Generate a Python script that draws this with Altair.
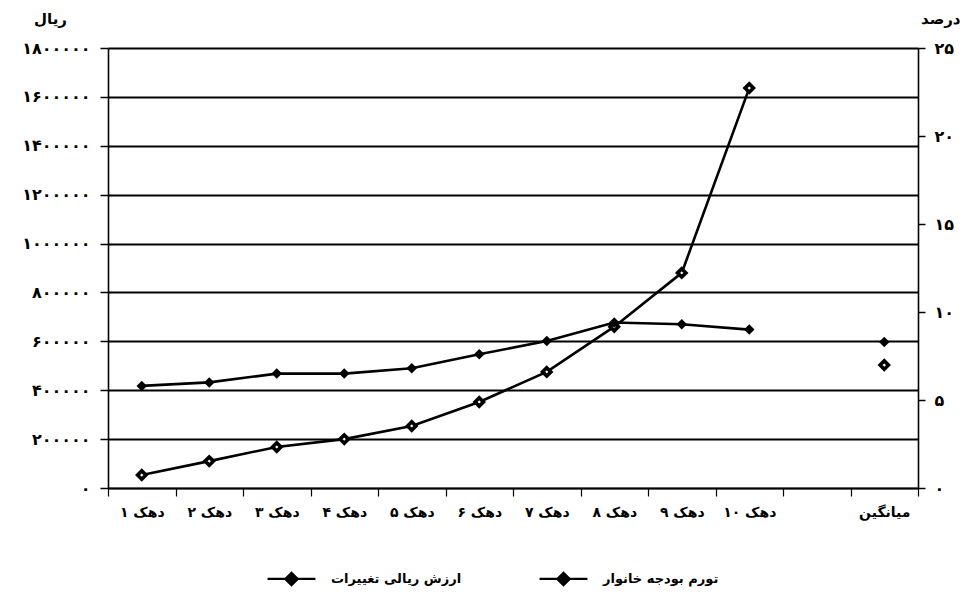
import altair as alt
import pandas as pd

# ---- data ----
categories = ['دهک ۱', 'دهک ۲', 'دهک ۳', 'دهک ۴', 'دهک ۵', 'دهک ۶', 'دهک ۷',
              'دهک ۸', 'دهک ۹', 'دهک ۱۰', ' ', 'میانگین']
avg_label = 'میانگین'
point_cats = ['دهک ۱', 'دهک ۲', 'دهک ۳', 'دهک ۴', 'دهک ۵', 'دهک ۶', 'دهک ۷',
              'دهک ۸', 'دهک ۹', 'دهک ۱۰', 'میانگین']
rial_values = [53000, 110000, 168000, 200000, 254000, 352000, 475000,
               660000, 880000, 1636000, 503000]
inflation_pct = [5.8, 6.0, 6.5, 6.5, 6.8, 7.6, 8.35, 9.4, 9.3, 9.0, 8.3]

rial_ticks = [0, 200000, 400000, 600000, 800000, 1000000, 1200000, 1400000, 1600000, 1800000]
rial_tick_labels = ['۰', '۲۰۰۰۰۰', '۴۰۰۰۰۰', '۶۰۰۰۰۰', '۸۰۰۰۰۰', '۱۰۰۰۰۰۰',
                    '۱۲۰۰۰۰۰', '۱۴۰۰۰۰۰', '۱۶۰۰۰۰۰', '۱۸۰۰۰۰۰']
pct_ticks = [0, 5, 10, 15, 20, 25]
pct_tick_labels = ['۰', '۵', '۱۰', '۱۵', '۲۰', '۲۵']
series_names = ['ارزش ریالی تغییرات', 'تورم بودجه خانوار']
left_title = 'ریال'
right_title = 'درصد'

df = pd.DataFrame({'cat': point_cats, 'rial': rial_values, 'pct': inflation_pct})


def label_expr(vals, labels):
    s = "''"
    for v, l in reversed(list(zip(vals, labels))):
        s = f"datum.value == {v} ? '{l}' : {s}"
    return s


FONT = 'DejaVu Sans'

x_enc = alt.X('cat:N',
              scale=alt.Scale(domain=categories, type='band', paddingInner=0, paddingOuter=0),
              axis=alt.Axis(title=None, tickBand='extent', labelAngle=0, labelFontSize=14,
                            labelFontWeight='bold', labelColor='black', domainColor='black',
                            tickColor='black', tickSize=8, labelPadding=9, grid=False,
                            domainWidth=1.5, tickWidth=1.2))

color_scale = alt.Scale(domain=series_names, range=['black', 'black'])
legend_path = 'M-1,0H1M0,-0.26L0.26,0L0,0.26L-0.26,0Z'

base = alt.Chart(df)

rial_axis = alt.Axis(values=rial_ticks, labelExpr=label_expr(rial_ticks, rial_tick_labels),
                     grid=True, gridColor='black', gridWidth=1.8, domainColor='black',
                     domainWidth=1.6, tickColor='black', tickSize=8, tickWidth=1.5,
                     labelPadding=10, labelFontSize=16, labelFontWeight='bold',
                     labelColor='black', title=left_title, titleAngle=0, titleX=-58,
                     titleY=-30, titleAlign='center', titleBaseline='middle',
                     titleFontSize=15, titleFontWeight='bold', titleColor='black',
                     orient='left')
pct_axis = alt.Axis(values=pct_ticks, labelExpr=label_expr(pct_ticks, pct_tick_labels),
                    grid=False, domainColor='black', domainWidth=1.6, tickColor='black',
                    tickSize=7, tickWidth=1.5, labelPadding=9, labelFontSize=16,
                    labelFontWeight='bold', labelColor='black', title=right_title,
                    titleAngle=0, titleX=42, titleY=-30, titleAlign='right',
                    titleBaseline='middle', titleFontSize=15, titleFontWeight='bold',
                    titleColor='black', orient='right')

legend = alt.Legend(orient='none', legendX=158, legendY=505,
                    direction='horizontal', title=None,
                    symbolType=legend_path, symbolSize=2300,
                    symbolStrokeWidth=2.2, symbolStrokeColor='black',
                    symbolFillColor='black', labelFontSize=13,
                    labelFontWeight='bold', labelColor='black',
                    labelOffset=14, columnPadding=73, labelLimit=300)

rial_line = base.mark_line(color='black', strokeWidth=2.6).encode(
    x=x_enc, y=alt.Y('rial:Q', scale=alt.Scale(domain=[0, 1800000]), axis=rial_axis)
).transform_filter(f"datum.cat != '{avg_label}'")

rial_pts = base.mark_point(shape='diamond', filled=False, fill='white', size=70,
                           strokeWidth=3.6, opacity=1).encode(
    x=x_enc, y=alt.Y('rial:Q', scale=alt.Scale(domain=[0, 1800000]), axis=rial_axis),
    color=alt.Color('series:N', scale=color_scale, legend=legend)
).transform_calculate(series=f"'{series_names[0]}'")

pct_line = base.mark_line(color='black', strokeWidth=2.6).encode(
    x=x_enc, y=alt.Y('pct:Q', scale=alt.Scale(domain=[0, 25]), axis=pct_axis)
).transform_filter(f"datum.cat != '{avg_label}'")

pct_pts = base.mark_point(shape='diamond', filled=True, size=110, opacity=1).encode(
    x=x_enc, y=alt.Y('pct:Q', scale=alt.Scale(domain=[0, 25]), axis=pct_axis),
    color=alt.Color('series:N', scale=color_scale, legend=legend)
).transform_calculate(series=f"'{series_names[1]}'")

chart = alt.layer(
    alt.layer(rial_line, rial_pts),
    alt.layer(pct_line, pct_pts)
).resolve_scale(y='independent').properties(
    width=810, height=440,
    autosize=alt.AutoSizeParams(type='none'),
    padding={'left': 100, 'top': 40, 'right': 42, 'bottom': 105}
).configure(font=FONT).configure_view(stroke=None)

chart.save('out.html', embed_options={'renderer': 'svg', 'actions': False})
